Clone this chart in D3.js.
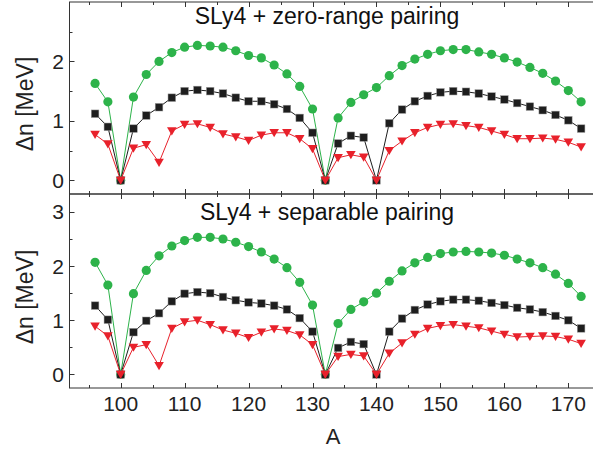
<!DOCTYPE html>
<html><head><meta charset="utf-8">
<script src="https://cdn.jsdelivr.net/npm/d3@7"></script>
<style>html,body{margin:0;padding:0;background:#fff;}svg{display:block;}</style>
</head><body>
<svg id="chart" width="593" height="449"></svg>
<script>
const massNumbers = d3.range(96, 173, 2);
const zrGreen = [1.63,1.32,0,1.40,1.78,2.00,2.15,2.24,2.27,2.26, 2.24,2.18,2.10,2.06,1.94,1.79,1.58,1.20,0,1.05, 1.31,1.44,1.56,1.76,1.93,2.04,2.12,2.18,2.20,2.20, 2.16,2.12,2.06,1.99,1.90,1.80,1.67,1.51,1.32];
const zrBlack = [1.12,0.90,0,0.87,1.09,1.23,1.39,1.50,1.52,1.50, 1.46,1.39,1.33,1.33,1.28,1.20,1.05,0.80,0,0.62, 0.75,0.72,0,0.96,1.19,1.33,1.42,1.48,1.50,1.49, 1.46,1.41,1.36,1.30,1.24,1.18,1.10,1.01,0.87];
const zrRed = [0.77,0.61,0,0.54,0.60,0.30,0.83,0.94,0.95,0.89, 0.78,0.73,0.67,0.76,0.80,0.80,0.70,0.53,0,0.38, 0.43,0.39,0,0.50,0.66,0.80,0.89,0.94,0.95,0.92, 0.89,0.83,0.77,0.70,0.70,0.71,0.69,0.64,0.56];
const sepGreen = [2.07,1.65,0,1.49,1.92,2.19,2.37,2.47,2.53,2.53, 2.50,2.44,2.36,2.26,2.13,1.97,1.70,1.28,0,0.94, 1.20,1.34,1.50,1.72,1.91,2.06,2.16,2.23,2.26,2.27, 2.26,2.24,2.20,2.13,2.06,1.97,1.85,1.68,1.44];
const sepBlack = [1.27,1.01,0,0.78,0.99,1.13,1.35,1.49,1.52,1.50, 1.43,1.37,1.33,1.31,1.27,1.20,1.04,0.79,0,0.49, 0.60,0.56,0,0.79,1.03,1.19,1.29,1.35,1.38,1.38, 1.36,1.32,1.28,1.23,1.20,1.15,1.08,1.00,0.85];
const sepRed = [0.89,0.71,0,0.50,0.55,0.16,0.85,0.97,1.00,0.92, 0.82,0.76,0.68,0.78,0.84,0.81,0.73,0.55,0,0.33, 0.37,0.34,0,0.39,0.58,0.74,0.85,0.90,0.92,0.89, 0.86,0.80,0.74,0.69,0.70,0.71,0.70,0.65,0.57];
const panelTitles = ["SLy4 + zero-range pairing", "SLy4 + separable pairing"];
const xMajorTicks = [100,110,120,130,140,150,160,170];
const xMinorTicks = [95,105,115,125,135,145,155,165,175];
const yTopMajor = [0,1,2];
const yBotMajor = [0,1,2,3];
const yMinor = [0.5,1.5,2.5];
const yLabel = "Δn [MeV]";
const xLabel = "A";

const svg = d3.select("#chart");
const font = "'Liberation Sans', Arial, sans-serif";
const colors = {green:"#2db34a", black:"#1e1e1e", red:"#e8212b"};
const axisColor = "#333";

const x = d3.scaleLinear().domain([92,174]).range([69.5,593.9]);
const left = 69.5, right = 593.9;

const panels = [
  {y: d3.scaleLinear().domain([-0.23,3.0]).range([194,2]), top:2, bottom:194, major:yTopMajor,
   series:[[zrGreen,"green"],[zrBlack,"black"],[zrRed,"red"]], title:panelTitles[0], titleY:24, showX:false},
  {y: d3.scaleLinear().domain([-0.25,3.33]).range([388,194]), top:194, bottom:388, major:yBotMajor,
   series:[[sepGreen,"green"],[sepBlack,"black"],[sepRed,"red"]], title:panelTitles[1], titleY:220, showX:true}
];

panels.forEach(p => {
  const g = svg.append("g");
  const tk = g.append("g").attr("stroke", axisColor).attr("stroke-width", 1);
  xMajorTicks.forEach(v => {
    const xv = Math.round(x(v)) + 0.5;
    tk.append("line").attr("x1",xv).attr("x2",xv).attr("y1",p.bottom).attr("y2",p.bottom-5);
    tk.append("line").attr("x1",xv).attr("x2",xv).attr("y1",p.top).attr("y2",p.top+5);
  });
  xMinorTicks.forEach(v => {
    const xv = Math.round(x(v)) + 0.5;
    tk.append("line").attr("x1",xv).attr("x2",xv).attr("y1",p.bottom).attr("y2",p.bottom-3);
    tk.append("line").attr("x1",xv).attr("x2",xv).attr("y1",p.top).attr("y2",p.top+3);
  });
  p.major.forEach(v => {
    const yv = Math.round(p.y(v)) + 0.5;
    tk.append("line").attr("x1",left).attr("x2",left+5).attr("y1",yv).attr("y2",yv);
    g.append("text").attr("x",64).attr("y",p.y(v)).attr("dy","0.36em")
      .attr("text-anchor","end").attr("font-family",font).attr("font-size",21).attr("fill","#222").text(v);
  });
  yMinor.forEach(v => {
    const yv = Math.round(p.y(v)) + 0.5;
    tk.append("line").attr("x1",left).attr("x2",left+3).attr("y1",yv).attr("y2",yv);
  });
  g.append("rect").attr("x",left).attr("y",p.top).attr("width",right-left).attr("height",p.bottom-p.top)
    .attr("fill","none").attr("stroke",axisColor).attr("stroke-width",1);
  g.append("text").attr("x",327).attr("y",p.titleY).attr("text-anchor","middle")
    .attr("font-family",font).attr("font-size",23).attr("fill","#111").text(p.title);
  const cy = (p.top + p.bottom) / 2 + 6;
  g.append("text").attr("transform",`translate(33,${cy}) rotate(-90)`).attr("text-anchor","middle")
    .attr("font-family",font).attr("font-size",23).attr("fill","#222").text(yLabel);
  p.series.forEach(([vals, c]) => {
    const pts = massNumbers.map((a,i) => [x(a), p.y(vals[i])]);
    g.append("path").attr("d", d3.line()(pts)).attr("fill","none")
      .attr("stroke", colors[c]).attr("stroke-width", 1);
    const mg = g.append("g");
    pts.forEach(([px,py]) => {
      if (c === "green") {
        mg.append("circle").attr("cx",px).attr("cy",py).attr("r",4.6).attr("fill",colors.green);
      } else if (c === "black") {
        mg.append("rect").attr("x",px-3.8).attr("y",py-3.8).attr("width",7.6).attr("height",7.6)
          .attr("fill",colors.black).attr("stroke","#999").attr("stroke-width",0.5);
      } else {
        mg.append("path").attr("d",`M${px-4.8},${py-3.7}L${px+4.8},${py-3.7}L${px},${py+4.5}Z`)
          .attr("fill",colors.red);
      }
    });
  });
  if (p.showX) {
    xMajorTicks.forEach(v => {
      g.append("text").attr("x",x(v)).attr("y",411).attr("text-anchor","middle")
        .attr("font-family",font).attr("font-size",21).attr("fill","#222").text(v);
    });
    g.append("text").attr("x",333).attr("y",444).attr("text-anchor","middle")
      .attr("font-family",font).attr("font-size",22).attr("fill","#222").text(xLabel);
  }
});
</script>
</body></html>
